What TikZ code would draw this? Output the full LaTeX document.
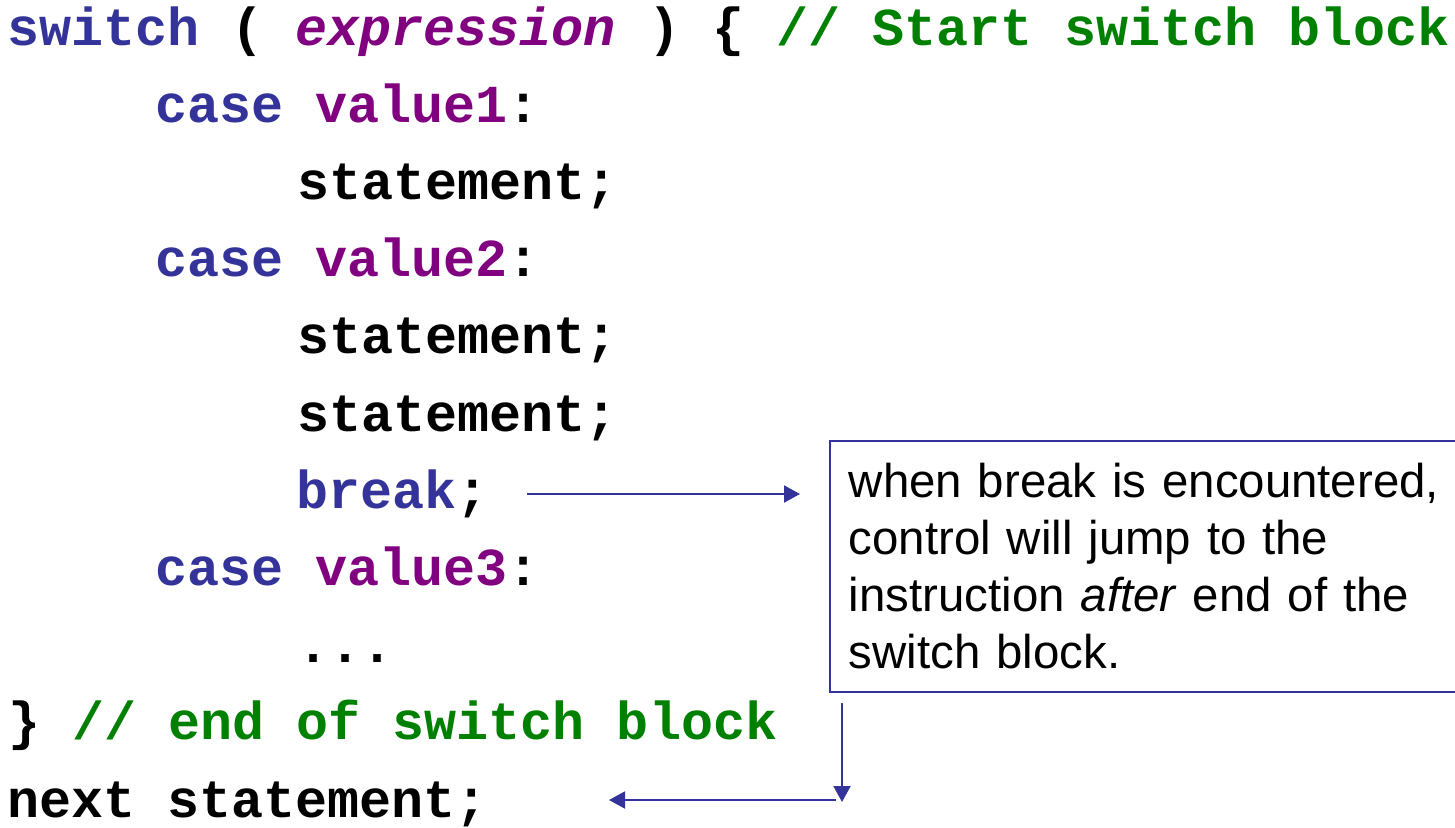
\documentclass[tikz,border=0pt]{standalone}
\usepackage{fontspec}
\setmainfont{Liberation Sans}
\setmonofont{Liberation Mono}
\usetikzlibrary{arrows.meta}
\definecolor{kwblue}{RGB}{51,51,153}
\definecolor{valpurple}{RGB}{128,0,128}
\definecolor{cmtgreen}{RGB}{0,128,0}
\newcommand{\kw}[1]{\textcolor{kwblue}{#1}}
\newcommand{\val}[1]{\textcolor{valpurple}{#1}}
\newcommand{\cmt}[1]{\textcolor{cmtgreen}{#1}}
\begin{document}
\begin{tikzpicture}[x=1pt,y=-1pt,
  code/.style={anchor=base west, inner sep=0pt,
    font=\ttfamily\bfseries\fontsize{53.4pt}{60pt}\selectfont},
  note/.style={draw=kwblue, line width=1.8pt, anchor=north west,
    minimum height=251pt, text width=600pt, inner xsep=19pt, align=left,
    font=\fontsize{47.4pt}{57pt}\selectfont},
  conn/.style={draw=kwblue, line width=2pt,
    -{Triangle[length=16pt,width=17pt]}}]
\useasboundingbox (0,0) rectangle (1455,827);
\clip (0,0) rectangle (1455,827);

% source listing
\node[code] (l0)  at (7,45)      {\kw{switch} ( \val{\textit{expression}} ) \{ \cmt{// Start switch block}};
\node[code] (l1)  at (155,122.2) {\kw{case} \val{value1}:};
\node[code] (l2)  at (297,199.4) {statement;};
\node[code] (l3)  at (155,276.6) {\kw{case} \val{value2}:};
\node[code] (l4)  at (297,353.8) {statement;};
\node[code] (l5)  at (297,431)   {statement;};
\node[code] (brk) at (296,508.2) {\kw{break};};
\node[code] (l7)  at (155,585.4) {\kw{case} \val{value3}:};
\node[code] (l8)  at (297,662.6) {...};
\node[code] (l9)  at (8,739.8)   {\} \cmt{// end of switch block}};
\node[code] (nxt) at (7,817)     {next statement;};

% explanation box
\node[note] (box) at (829,440)
  {when break is encountered,\\control will jump to the\\instruction \textit{after} end of the\\switch block.};

% arrows
\coordinate (brkout) at (527,494);
\coordinate (brkin)  at (800,494);
\coordinate (downtop) at (842,703);
\coordinate (downend) at (842,802);
\coordinate (backstart) at (836,800);
\coordinate (backend) at (609,800);
\draw[conn] (brkout) -- (brkin);
\draw[conn] (downtop) -- (downend);
\draw[conn] (backstart) -- (backend);
\end{tikzpicture}
\end{document}
